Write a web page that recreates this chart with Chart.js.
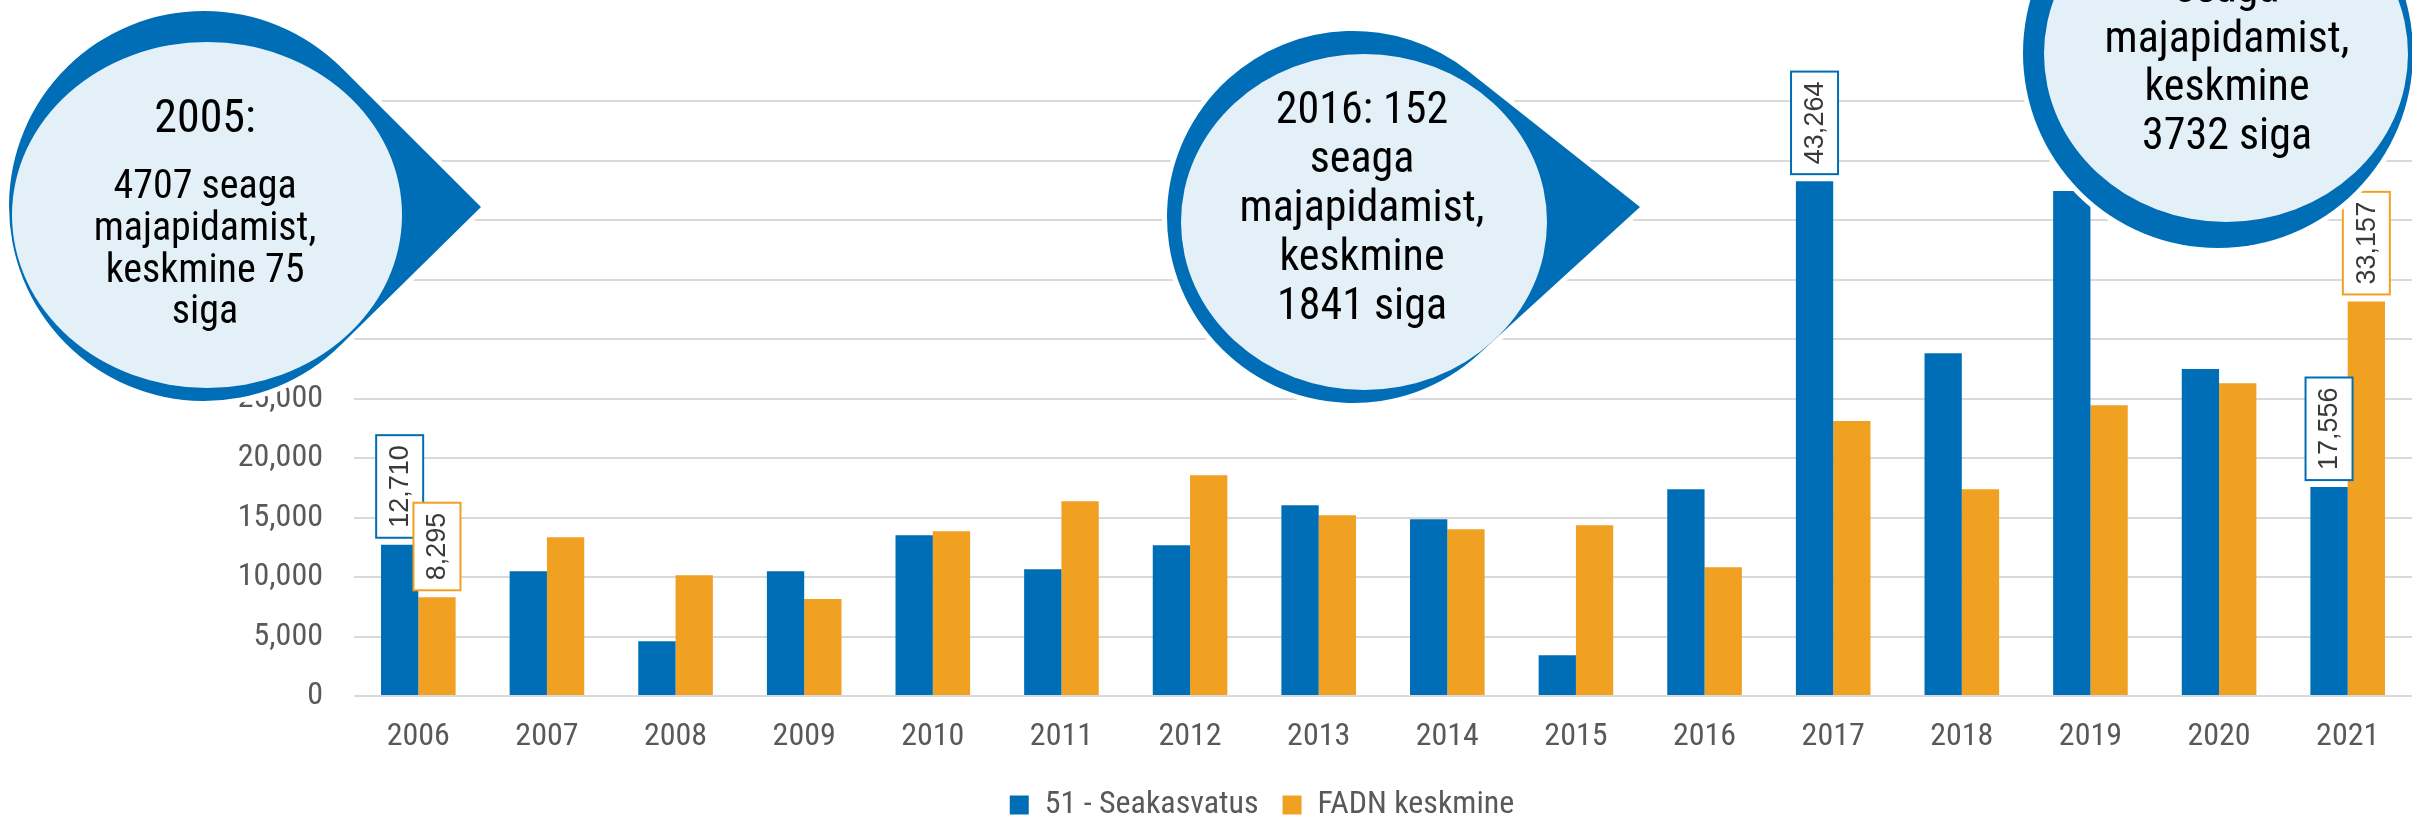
<!DOCTYPE html>
<html><head><meta charset="utf-8">
<script src="https://cdn.jsdelivr.net/npm/chart.js@4.4.1/dist/chart.umd.min.js"></script>
<style>html,body{margin:0;padding:0;background:#fff;overflow:hidden}canvas{display:block}</style>
</head><body>
<canvas id="c" width="2412" height="819"></canvas>
<script>
// ---- data ----
const years = ['2006','2007','2008','2009','2010','2011','2012','2013','2014','2015','2016','2017','2018','2019','2020','2021'];
const seakasvatus = [12710, 10480, 4600, 10480, 13510, 10650, 12670, 16030, 14860, 3420, 17380, 43264, 28810, 42430, 27470, 17556];
const fadnKeskmine = [8295, 13340, 10150, 8150, 13850, 16370, 18560, 15190, 14020, 14350, 10820, 23100, 17380, 24440, 26290, 33157];
const seriesNames = ['51 - Seakasvatus', 'FADN keskmine'];
const yMin = 0, yMax = 50000, yStep = 5000;
const labelledSeakasvatus = [0, 11, 15];
const labelledFadn = [0, 15];
const bubble2005 = ['2005:', '4707 seaga', 'majapidamist,', 'keskmine 75', 'siga'];
const bubble2016 = ['2016: 152', 'seaga', 'majapidamist,', 'keskmine', '1841 siga'];
const bubble2019 = ['seaga', 'majapidamist,', 'keskmine', '3732 siga'];

// ---- font pick ----
function available(f){
  const c = document.createElement('canvas').getContext('2d');
  const s = 'majapidamist, 0123456789';
  for (const g of ['monospace','serif']) {
    c.font = '100px ' + g; const a = c.measureText(s).width;
    c.font = '100px "' + f + '", ' + g; const b = c.measureText(s).width;
    if (a === b) return false;
  }
  return true;
}
const FONT = ['Roboto Condensed','Liberation Sans Narrow','Arial Narrow','DejaVu Sans Condensed','Roboto'].find(available) || 'sans-serif';
const LABELFONT = 'Liberation Sans, Arial, sans-serif';

const BLUE = '#006EB6', ORANGE = '#F0A122', LIGHT = '#E4F0F8', GREY = '#595959';
const fmt = v => v.toLocaleString('en-US');

function teardrop(ctx, cx, cy, R, tip) {
  ctx.beginPath();
  if (!tip) { ctx.arc(cx, cy, R, 0, Math.PI * 2); ctx.closePath(); return; }
  const [tx, ty] = tip;
  const dx = tx - cx, dy = ty - cy, d = Math.hypot(dx, dy);
  const base = Math.atan2(dy, dx), a = Math.acos(R / d);
  ctx.moveTo(tx, ty);
  ctx.arc(cx, cy, R, base + a, base - a + Math.PI * 2);
  ctx.closePath();
}

const bubbles = [
  {c: [204, 206], R: 195, tip: [481, 207], e: [207, 215, 195, 173],
   lines: bubble2005, x: 205, base: [132, 198, 240, 282, 323], size: [46, 40, 40, 40, 40]},
  {c: [1353, 217], R: 186, tip: [1640, 207], e: [1364, 222, 183, 168],
   lines: bubble2016, x: 1362, base: [123, 172, 221, 270, 319], size: [44, 44, 44, 44, 44]},
  {c: [2218, 53], R: 195, tip: null, e: [2226, 54, 182, 168],
   lines: bubble2019, x: 2227, base: [2, 52, 100, 149], size: [44, 44, 44, 44]}
];

const bubblePlugin = {
  id: 'bubbles',
  afterDraw(chart) {
    const ctx = chart.ctx;
    ctx.save();
    for (const b of bubbles) {
      teardrop(ctx, b.c[0], b.c[1], b.R, b.tip);
      ctx.lineWidth = 10; ctx.strokeStyle = '#fff'; ctx.lineJoin = 'round'; ctx.stroke();
      ctx.fillStyle = BLUE; ctx.fill();
      ctx.beginPath();
      ctx.ellipse(b.e[0], b.e[1], b.e[2], b.e[3], 0, 0, Math.PI * 2);
      ctx.fillStyle = LIGHT; ctx.fill();
      ctx.fillStyle = '#000'; ctx.textAlign = 'center'; ctx.textBaseline = 'alphabetic';
      b.lines.forEach((t, i) => {
        ctx.font = b.size[i] + 'px "' + FONT + '"';
        ctx.fillText(t, b.x, b.base[i]);
      });
    }
    ctx.restore();
  }
};

const valueLabelPlugin = {
  id: 'valueLabels',
  afterDatasetsDraw(chart) {
    const ctx = chart.ctx;
    const lists = [labelledSeakasvatus, labelledFadn];
    const colors = [BLUE, ORANGE];
    ctx.save();
    ctx.font = '27px ' + LABELFONT;
    chart.data.datasets.forEach((ds, di) => {
      const meta = chart.getDatasetMeta(di);
      lists[di].forEach(i => {
        const el = meta.data[i];
        const txt = fmt(ds.data[i]);
        const len = ctx.measureText(txt).width + 20;
        const w = 47;
        const bottom = el.y - 7;
        ctx.fillStyle = '#fff';
        ctx.fillRect(el.x - w / 2, bottom - len, w, len);
        ctx.lineWidth = 2; ctx.strokeStyle = colors[di];
        ctx.strokeRect(el.x - w / 2, bottom - len, w, len);
        ctx.save();
        ctx.translate(el.x, bottom - len / 2);
        ctx.rotate(-Math.PI / 2);
        ctx.fillStyle = '#3a3a3a'; ctx.textAlign = 'center'; ctx.textBaseline = 'middle';
        ctx.fillText(txt, 0, 1);
        ctx.restore();
      });
    });
    ctx.restore();
  }
};

const legendShift = {
  id: 'legendShift',
  afterLayout(chart) {
    const lg = chart.legend;
    if (!lg) return;
    lg.top += 12; lg.bottom += 12;
    lg.left += 56; lg.right += 56;
    if (lg.legendHitBoxes) lg.legendHitBoxes.forEach(h => { h.top += 12; h.left += 56; });
  }
};

Chart.defaults.font.family = '"' + FONT + '"';
Chart.defaults.color = GREY;

new Chart(document.getElementById('c'), {
  type: 'bar',
  data: {
    labels: years,
    datasets: [
      {label: seriesNames[0], data: seakasvatus, backgroundColor: BLUE, borderWidth: 0},
      {label: seriesNames[1], data: fadnKeskmine, backgroundColor: ORANGE, borderWidth: 0}
    ]
  },
  options: {
    responsive: false,
    animation: false,
    devicePixelRatio: 1,
    categoryPercentage: 0.58,
    barPercentage: 1.0,
    layout: {padding: {top: 101, left: 0, right: 0, bottom: 0}},
    plugins: {
      tooltip: {enabled: false},
      legend: {
        position: 'bottom',
        labels: {boxWidth: 19, boxHeight: 19, padding: 24, color: GREY, font: {size: 32}}
      }
    },
    scales: {
      x: {
        grid: {display: false, drawTicks: false},
        border: {display: false},
        ticks: {font: {size: 32}, color: GREY, padding: 22, maxRotation: 0, autoSkip: false},
        afterFit(s) { s.height = 57; }
      },
      y: {
        min: yMin, max: yMax,
        grid: {color: '#D9D9D9', lineWidth: 2, drawTicks: false},
        border: {display: false},
        ticks: {stepSize: yStep, font: {size: 32}, color: GREY, padding: 31, callback: v => fmt(v)},
        afterFit(s) { s.width = 354; }
      }
    }
  },
  plugins: [valueLabelPlugin, bubblePlugin, legendShift]
});
</script>
</body></html>
